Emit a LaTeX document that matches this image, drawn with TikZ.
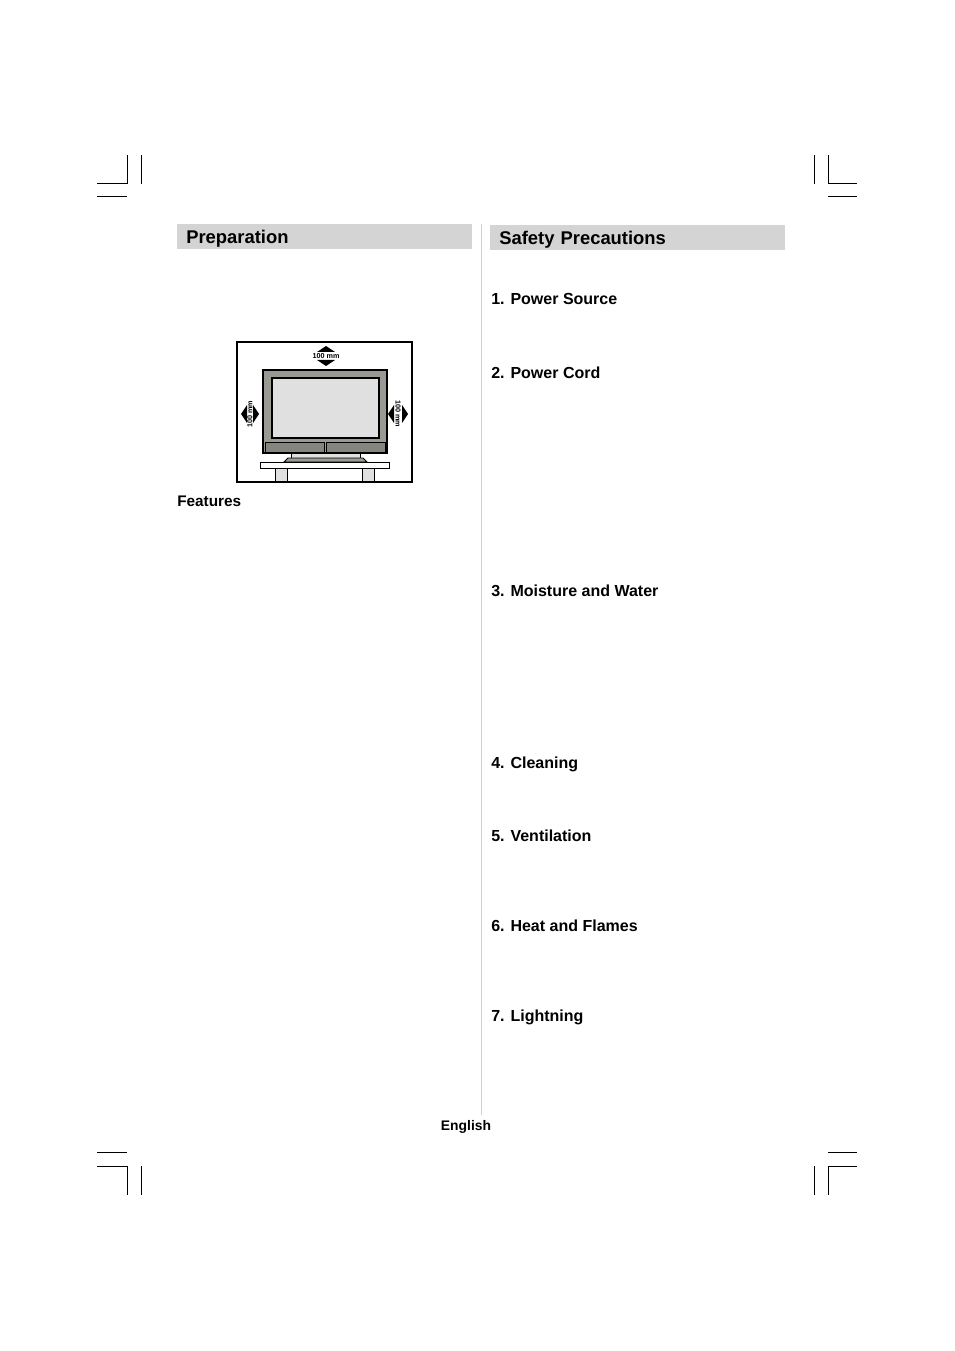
\documentclass[tikz,border=0pt]{standalone}
\usepackage{fontspec}
\setmainfont{Liberation Sans}
\usetikzlibrary{positioning}

\definecolor{barGray}{HTML}{D4D4D4}
\definecolor{ruleGray}{HTML}{D0D0D0}
\definecolor{tvGray}{HTML}{9A9A92}
\definecolor{screenGray}{HTML}{E0E0E0}
\definecolor{spkGray}{HTML}{85857F}

\tikzset{
	headbar/.style = {fill = barGray, anchor = north west, inner xsep = 6.75pt, inner ysep = 0pt,
		minimum height = 18.75pt, text width = 207.75pt, align = left,
		font = \fontsize{13.8}{15}\selectfont\bfseries, text height = 10pt, text depth = 0pt},
	item/.style = {anchor = base west, inner sep = 0pt, font = \fontsize{12}{14}\selectfont\bfseries},
	mmlabel/.style = {inner sep = 0pt, font = \fontsize{5.4}{6}\selectfont\bfseries},
	crop/.style = {line width = 0.75pt}
}

\begin{document}
\begin{tikzpicture}[x = 0.75pt, y = -0.75pt]
	\useasboundingbox (0, 0) rectangle (954, 1351);
	
	%	crop marks
	\draw[crop] (97, 184) -- (127, 184) -- (127, 155);
	\draw[crop] (141, 155) -- (141, 184);
	\draw[crop] (97, 197) -- (127, 197);
	\draw[crop] (857, 184) -- (828, 184) -- (828, 155);
	\draw[crop] (814, 155) -- (814, 184);
	\draw[crop] (828, 197) -- (857, 197);
	\draw[crop] (97, 1152) -- (127, 1152);
	\draw[crop] (97, 1166) -- (127, 1166) -- (127, 1195);
	\draw[crop] (141, 1166) -- (141, 1195);
	\draw[crop] (828, 1152) -- (857, 1152);
	\draw[crop] (857, 1166) -- (828, 1166) -- (828, 1195);
	\draw[crop] (814, 1166) -- (814, 1195);
	
	%	column rule
	\def\colx{481}
	\draw[ruleGray, line width = 0.75pt] (\colx, 224) -- (\colx, 1115);
	
	%	headings
	\node[headbar] (prep) at (177, 224) {Preparation};
	\node[headbar] (safety) at (490, 225) {Safety Precautions};
	
	%	left column
	\node[item, font = \fontsize{11.5}{14}\selectfont\bfseries] (features) at (177, 506.5) {Features};
	
	%	tv placement sketch
	\draw[line width = 1.1pt, fill = white] (237, 342) rectangle (412, 482);
	\draw[fill = tvGray, line width = 0.9pt] (263, 370) rectangle (387, 453);
	\draw[fill = screenGray, line width = 0.9pt] (272, 378) rectangle (379, 438);
	\draw[fill = spkGray, line width = 0.6pt] (265, 442) rectangle (324, 452);
	\draw[fill = spkGray, line width = 0.6pt] (326, 442) rectangle (385, 452);
	\draw[fill = screenGray, line width = 0.6pt] (291, 453) rectangle (360, 459);
	\draw[fill = tvGray, line width = 0.6pt] (288, 458) -- (363, 458) -- (367, 462) -- (284, 462) -- cycle;
	\draw[fill = white, line width = 0.6pt] (260, 462) rectangle (389, 468);
	\draw[fill = screenGray, line width = 0.6pt] (275, 468) rectangle (287, 481);
	\draw[fill = screenGray, line width = 0.6pt] (362, 468) rectangle (374, 481);
	
	%	clearance arrows
	\fill (326, 346) -- (335, 352) -- (317, 352) -- cycle;
	\fill (326, 366) -- (335, 360) -- (317, 360) -- cycle;
	\node[mmlabel] (gaptop) at (326, 356) {100 mm};
	\fill (241, 414) -- (247, 405) -- (247, 423) -- cycle;
	\fill (259, 414) -- (253, 405) -- (253, 423) -- cycle;
	\node[mmlabel, rotate = 90] (gapleft) at (250, 414) {100 mm};
	\fill (388, 414) -- (394, 405) -- (394, 423) -- cycle;
	\fill (408, 414) -- (402, 405) -- (402, 423) -- cycle;
	\node[mmlabel, rotate = -90] (gapright) at (398, 414) {100 mm};
	
	%	right column
	\node[item] (power) at (491, 304.5) {1. Power Source};
	\node[item] (cord) at (491, 378.5) {2. Power Cord};
	\node[item] (water) at (491, 596.5) {3. Moisture and Water};
	\node[item] (clean) at (491, 768) {4. Cleaning};
	\node[item] (vent) at (491, 841.5) {5. Ventilation};
	\node[item] (heat) at (491, 931.5) {6. Heat and Flames};
	\node[item] (light) at (491, 1021) {7. Lightning};
	
	%	footer
	\node[item, anchor = base, font = \fontsize{10.4}{12}\selectfont\bfseries] (lang) at (466, 1130.5) {English};
\end{tikzpicture}
\end{document}
